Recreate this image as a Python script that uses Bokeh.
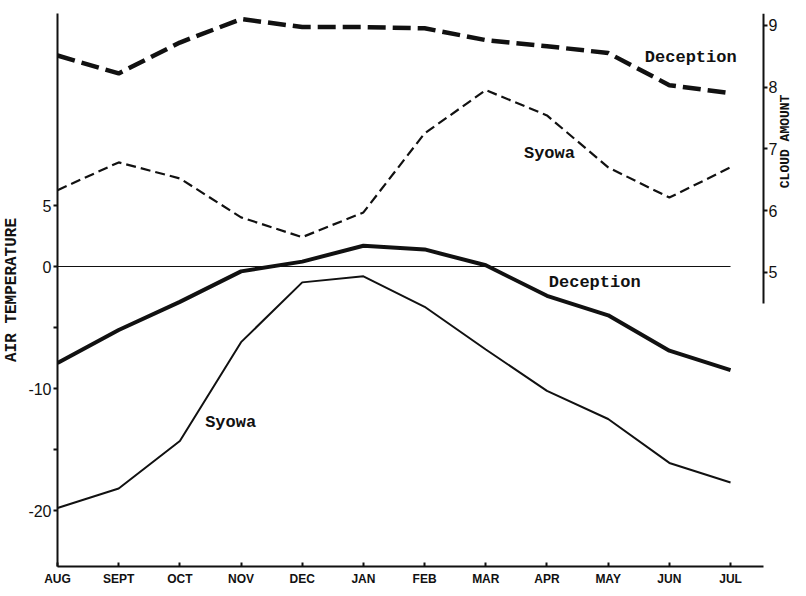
import math
from bokeh.plotting import figure
from bokeh.models import Range1d, LinearAxis, FixedTicker, Label
from bokeh.embed import file_html
from bokeh.resources import INLINE

months = ["AUG", "SEPT", "OCT", "NOV", "DEC", "JAN", "FEB", "MAR", "APR", "MAY", "JUN", "JUL"]
deception_cloud = [8.51, 8.22, 8.72, 9.10, 8.97, 8.97, 8.95, 8.76, 8.66, 8.55, 8.03, 7.90]
syowa_cloud = [6.33, 6.78, 6.52, 5.89, 5.57, 5.97, 7.25, 7.95, 7.54, 6.70, 6.21, 6.70]
deception_temp = [-7.9, -5.2, -2.9, -0.4, 0.4, 1.7, 1.4, 0.1, -2.4, -4.0, -6.9, -8.5]
syowa_temp = [-19.8, -18.2, -14.3, -6.2, -1.3, -0.8, -3.3, -6.8, -10.2, -12.5, -16.1, -17.7]
temp_ticks = [5, 0, -5, -10, -15, -20]
temp_tick_labels = {5: "5", 0: "0", -5: "", -10: "-10", -15: "", -20: "-20"}
cloud_ticks = [5, 6, 7, 8, 9]

x = list(range(len(months)))
INK = "#111111"
MONO = "Liberation Mono"
X_END = 11.54  # where the x axis and cloud axis end

p = figure(frame_width=733, frame_height=553, output_backend="svg", toolbar_location=None,
           x_range=Range1d(0, 11.98), y_range=Range1d(-24.59, 20.74),
           min_border_left=50, min_border_right=0, min_border_top=13, min_border_bottom=22)
p.extra_y_ranges = {"cloud": Range1d(0.239, 9.19)}
p.outline_line_color = None
p.grid.visible = False

xa = p.xaxis[0]
xa.ticker = FixedTicker(ticks=x)
xa.bounds = (0, X_END)
xa.major_label_overrides = {i: m for i, m in enumerate(months)}
xa.major_tick_in = 4
xa.major_tick_out = 0
xa.minor_tick_line_color = None
xa.axis_line_width = 2
xa.axis_line_color = INK
xa.major_tick_line_color = INK
xa.major_tick_line_width = 2
xa.major_label_text_font = "Liberation Sans"
xa.major_label_text_font_style = "bold"
xa.major_label_text_font_size = "12px"
xa.major_label_text_color = INK
xa.major_label_standoff = 5
xa.axis_label_standoff = 0

ya = p.yaxis[0]
ya.ticker = FixedTicker(ticks=temp_ticks)
ya.major_label_overrides = {t: s for t, s in temp_tick_labels.items()}
ya.major_tick_in = 0
ya.major_tick_out = 4
ya.minor_tick_line_color = None
ya.axis_line_width = 2
ya.axis_line_color = INK
ya.major_tick_line_color = INK
ya.major_tick_line_width = 2
ya.major_label_text_font = "Liberation Sans"
ya.major_label_text_font_size = "16px"
ya.major_label_text_color = INK
ya.major_label_standoff = 2
ya.axis_label = "AIR TEMPERATURE"
ya.axis_label_text_font = MONO
ya.axis_label_text_font_style = "bold"
ya.axis_label_text_font_size = "16px"
ya.axis_label_text_color = INK
ya.axis_label_standoff = 4

ca = LinearAxis(y_range_name="cloud", bounds=(4.5, 9.2), ticker=FixedTicker(ticks=cloud_ticks),
                fixed_location=X_END)
ca.major_tick_in = 0
ca.major_tick_out = 4
ca.minor_tick_line_color = None
ca.axis_line_width = 2
ca.axis_line_color = INK
ca.major_tick_line_color = INK
ca.major_tick_line_width = 2
ca.major_label_text_font = "Liberation Sans"
ca.major_label_text_font_size = "16px"
ca.major_label_text_color = INK
ca.major_label_standoff = 1
ca.axis_label_standoff = 0
p.add_layout(ca, "right")

p.segment(x0=[x[0]], y0=[0], x1=[x[-1]], y1=[0], line_color=INK, line_width=1.2)
p.line(x, deception_cloud, y_range_name="cloud", line_color=INK, line_width=4.5, line_dash="18 7")
p.line(x, syowa_cloud, y_range_name="cloud", line_color=INK, line_width=2.2, line_dash="10 5")
p.line(x, deception_temp, line_color=INK, line_width=4)
p.line(x, syowa_temp, line_color=INK, line_width=2)

def lab(text, xx, yy, rng=None, angle=0.0, size="17px"):
    kw = dict(x=xx, y=yy, text=text, text_font=MONO, text_font_style="bold",
              text_font_size=size, text_color=INK, text_align="center",
              text_baseline="middle", angle=angle)
    if rng:
        kw["y_range_name"] = rng
    p.add_layout(Label(**kw))

lab("Deception", 10.35, 8.48, "cloud")
lab("Syowa", 8.04, 6.93, "cloud")
lab("Deception", 8.78, -1.35)
lab("Syowa", 2.83, -12.75)
lab("CLOUD AMOUNT", 11.90, 7.12, "cloud", angle=math.pi / 2, size="13px")

open("out.html", "w").write(file_html(p, INLINE))
